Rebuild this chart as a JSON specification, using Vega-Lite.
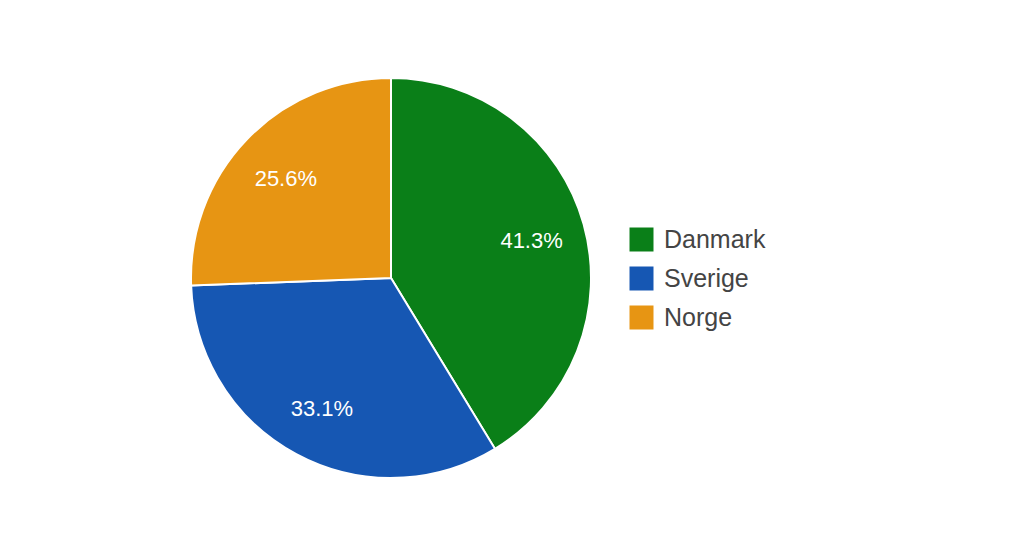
{
  "$schema": "https://vega.github.io/schema/vega-lite/v6.json",
  "autosize": "none",
  "width": 400,
  "height": 400,
  "padding": {"left": 191, "top": 78, "right": 441, "bottom": 77},
  "background": "white",
  "config": {"view": {"stroke": null}, "font": "Liberation Sans"},
  "data": {
    "values": [
      {"country": "Danmark", "share": 0.413, "rank": 1},
      {"country": "Sverige", "share": 0.331, "rank": 2},
      {"country": "Norge", "share": 0.256, "rank": 3}
    ]
  },
  "encoding": {
    "theta": {"field": "share", "type": "quantitative", "stack": true},
    "order": {"field": "rank", "type": "quantitative"}
  },
  "layer": [
    {
      "mark": {"type": "arc", "outerRadius": 200, "stroke": "white", "strokeWidth": 2},
      "encoding": {
        "color": {
          "field": "country",
          "type": "nominal",
          "sort": ["Danmark", "Sverige", "Norge"],
          "scale": {"domain": ["Danmark", "Sverige", "Norge"], "range": ["#0a7f18", "#1657b3", "#e79513"]},
          "legend": {
            "title": null,
            "orient": "none",
            "legendX": 438,
            "legendY": 149,
            "symbolType": "square",
            "symbolSize": 576,
            "symbolStrokeWidth": 0,
            "symbolOpacity": 1,
            "labelFontSize": 25,
            "labelColor": "#444444",
            "labelFont": "Liberation Sans",
            "labelOffset": 10,
            "rowPadding": 13,
            "padding": 0
          }
        }
      }
    },
    {
      "mark": {"type": "text", "radius": 146, "dy": 2, "fill": "white", "fontSize": 22, "font": "Liberation Sans"},
      "encoding": {
        "text": {"field": "share", "type": "quantitative", "format": ".1%"}
      }
    }
  ]
}
